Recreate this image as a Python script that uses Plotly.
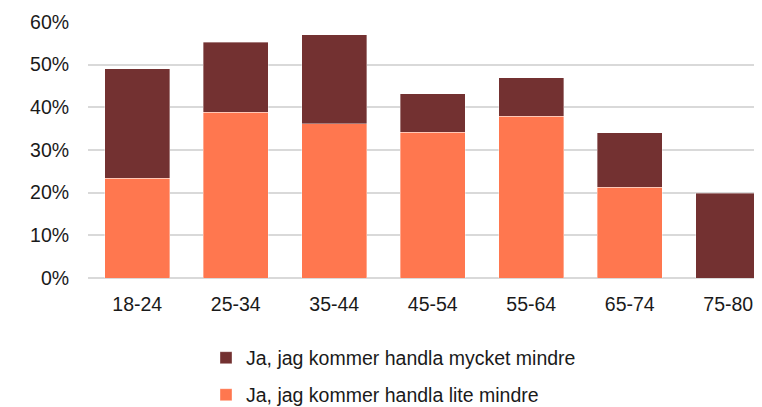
import plotly.graph_objects as go

categories = ["18-24", "25-34", "35-44", "45-54", "55-64", "65-74", "75-80"]
lite_mindre = [0.234, 0.388, 0.361, 0.342, 0.379, 0.213, 0.0]
mycket_mindre = [0.256, 0.164, 0.209, 0.090, 0.090, 0.128, 0.199]
y_ticks = [0, 0.1, 0.2, 0.3, 0.4, 0.5, 0.6]

DARK = "#733131"
ORANGE = "#FF774F"
FONT = "Liberation Sans, Arial, sans-serif"
FS = 19.5
W, H = 754, 399  # page body adds an 8px offset

fig = go.Figure()
fig.add_trace(go.Bar(
    x=categories, y=lite_mindre, name="Ja, jag kommer handla lite mindre",
    marker=dict(color=ORANGE, line=dict(color="rgba(255,255,255,0.6)", width=0.6)),
    width=0.66, legend="legend2",
))
fig.add_trace(go.Bar(
    x=categories, y=mycket_mindre, name="Ja, jag kommer handla mycket mindre",
    marker=dict(color=DARK, line=dict(color="rgba(255,255,255,0.6)", width=0.6)),
    width=0.66, legend="legend",
))

legend_common = dict(
    xref="container", yref="container", xanchor="left", yanchor="middle",
    font=dict(family=FONT, size=FS, color="#1a1a1a"),
    bgcolor="rgba(0,0,0,0)", borderwidth=0, itemwidth=30,
)

fig.update_layout(
    width=W, height=H,
    barmode="stack",
    plot_bgcolor="white", paper_bgcolor="white",
    margin=dict(l=80, r=0, t=14, b=129, autoexpand=False),
    font=dict(family=FONT, size=FS, color="#1a1a1a"),
    showlegend=True,
    legend=dict(x=198 / W, y=1 - 350 / H, **legend_common),
    legend2=dict(x=198 / W, y=1 - 387 / H, **legend_common),
    xaxis=dict(
        range=[-0.5, 6.343], showgrid=False, showline=False, zeroline=False,
        ticks="outside", ticklen=9, tickcolor="rgba(0,0,0,0)", tickangle=0,
        tickfont=dict(family=FONT, size=FS, color="#1a1a1a"),
    ),
    yaxis=dict(
        range=[0, 0.6], tickvals=y_ticks, tickformat=".0%",
        showgrid=True, gridcolor="#D9D9D9", gridwidth=1.5,
        zeroline=True, zerolinecolor="#D9D9D9", zerolinewidth=1.5,
        showline=False,
        ticks="outside", ticklen=14, tickcolor="rgba(0,0,0,0)",
        tickfont=dict(family=FONT, size=FS, color="#1a1a1a"),
    ),
)

fig.write_html("out.html")
